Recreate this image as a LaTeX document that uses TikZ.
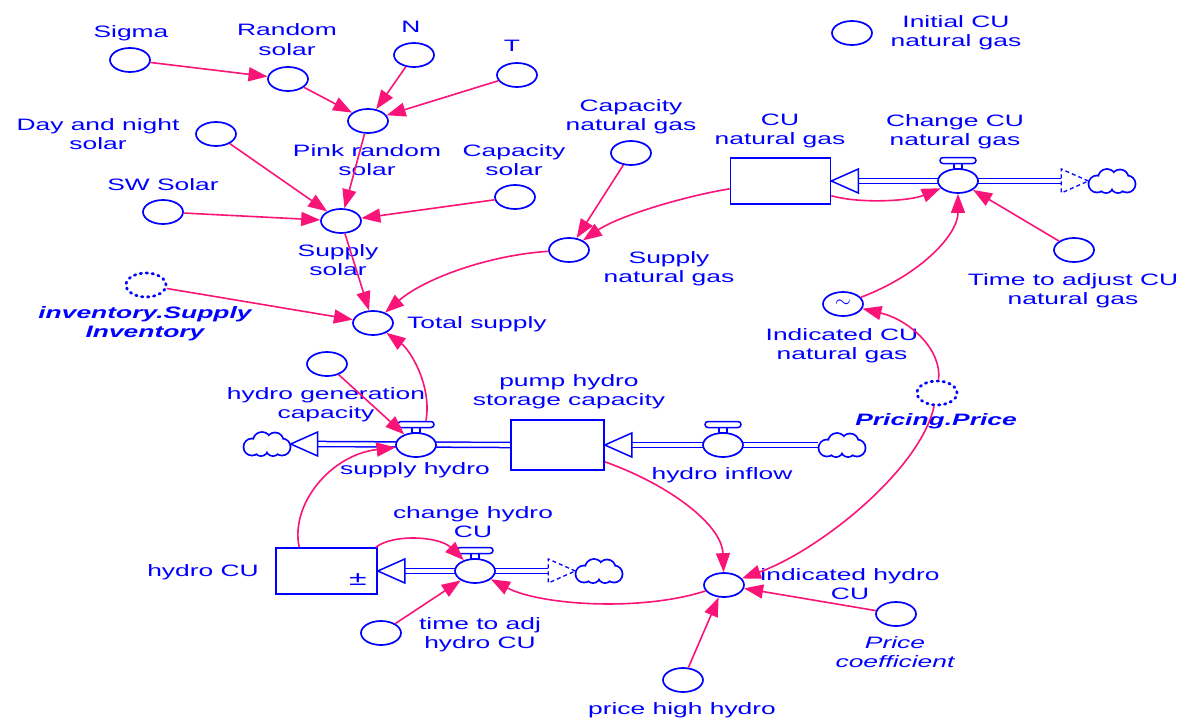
\documentclass[tikz,border=0pt]{standalone}
\usepackage{fontspec}
\setmainfont{Liberation Sans}[FakeStretch=1.6]
\usetikzlibrary{arrows.meta,shapes.geometric,backgrounds}
\definecolor{vblue}{RGB}{0,0,255}
\definecolor{vpink}{RGB}{250,20,120}

\tikzset{
  aux/.style={ellipse, draw=vblue, line width=1.7pt, fill=white,
    minimum width=40pt, minimum height=24pt, inner sep=0pt},
  ghostvar/.style={aux, line width=2.8pt, line cap=round, dash pattern=on 1.4pt off 4.6pt},
  stock/.style={rectangle, draw=vblue, line width=1.6pt, fill=white, inner sep=0pt},
  valve/.style={aux},
  handle/.style={rectangle, rounded corners=3pt, draw=vblue, line width=1.5pt, fill=white,
    minimum width=36pt, minimum height=6pt, inner sep=0pt},
  stem/.style={rectangle, draw=vblue, line width=1.4pt, fill=white,
    minimum width=8pt, minimum height=6pt, inner sep=0pt},
  sink/.style={rectangle, minimum width=47pt, minimum height=24pt, inner sep=0pt},
  % cloud outline: union of puffs, drawn as blue discs covered by smaller white discs
  cloudpic/.pic={
    \foreach \cx/\cy/\r in {-15/3/8.5, -5/-3/9, 8/-3/8.5, 15/3/8.5, -6/5/7, 6/5/7}
      {\fill[vblue] (\cx,\cy) circle[radius={(\r+0.9)*1pt}];}
    \foreach \cx/\cy/\r in {-15/3/8.5, -5/-3/9, 8/-3/8.5, 15/3/8.5, -6/5/7, 6/5/7}
      {\fill[white] (\cx,\cy) circle[radius={(\r-0.9)*1pt}];}
  },
  lbl/.style={text=vblue, align=center, anchor=base, inner sep=0pt,
    font=\fontsize{16.5}{19.5}\selectfont},
  link/.style={draw=vpink, line width=1.6pt, -{Triangle[length=19pt,width=14pt]}},
  pipe/.style={draw=vblue, line width=1.5pt, double=white, double distance=3.6pt},
  flowhead/.pic={\draw[vblue, line width=1.5pt, fill=white, line join=miter]
    (0,0) -- (-27,-12) -- (-27,12) -- cycle;},
  flowheaddash/.pic={\draw[vblue, line width=1.3pt, fill=white, dash pattern=on 4pt off 3pt]
    (0,0) -- (-27,-12) -- (-27,12) -- cycle;},
}

\begin{document}
\begin{tikzpicture}[x=1pt,y=-1pt]
\useasboundingbox (0,0) rectangle (1185,717);
\begin{scope}[on background layer]
  \fill[white] (0,0) rectangle (1185,717);
\end{scope}

% ---------- solar sector ----------
\node[aux] (sigma)  at (130,60)  {};
\node[aux] (randsol) at (288,79) {};
\node[aux] (nvar)   at (414,55)  {};
\node[aux] (tvar)   at (517,75)  {};
\node[aux] (pink)   at (368,121) {};
\node[aux] (dns)    at (216,134) {};
\node[aux] (sw)     at (163,212) {};
\node[aux] (capsol) at (515,197) {};
\node[aux] (supsol) at (341,221) {};
\node[aux] (total)  at (373,323) {};
\node[ghostvar] (inv) at (146,285) {};

% two-line labels are anchored at the baseline of their last line
\node[lbl] (l-sigma)   at (131,37.5) {Sigma};
\node[lbl] (l-randsol) at (287,55.5)  {Random\\solar};
\node[lbl] (l-n)       at (411,33)  {N};
\node[lbl] (l-t)       at (512,52)  {T};
\node[lbl] (l-dns)     at (98,149.5)  {Day and night\\solar};
\node[lbl] (l-pink)    at (367,175.5) {Pink random\\solar};
\node[lbl] (l-capsol)  at (514,175.5) {Capacity\\solar};
\node[lbl] (l-sw)      at (163,190) {SW Solar};
\node[lbl] (l-supsol)  at (338,275.5) {Supply\\solar};
\node[lbl, font=\fontsize{16.5}{19.5}\selectfont\bfseries\itshape] (l-inv) at (145,337.5) {inventory.Supply\\Inventory};
\node[lbl, anchor=base west] (l-total) at (407,328) {Total supply};

% ---------- natural gas sector ----------
\node[aux] (capng)  at (631,153) {};
\node[aux] (sng)    at (569,250) {};
\node[stock, minimum width=100pt, minimum height=46pt] (cung) at (780.5,181) {};
\node[aux] (timecu) at (1074,250) {};
\node[aux, text=vblue] (icng) at (843,304) {\raisebox{-4pt}{\fontsize{20}{20}\selectfont$\sim$}};
\node[ghostvar] (pricing) at (937,393) {};
\node[aux] (initcu) at (852,33) {};
\node[sink] (cloudng) at (1112,181) {};

\node[lbl] (l-capng)   at (631,130.5) {Capacity\\natural gas};
\node[lbl] (l-cung)    at (780,144.5) {CU\\natural gas};
\node[lbl] (l-chcu)    at (955,145.5) {Change CU\\natural gas};
\node[lbl] (l-init)    at (956,47)   {Initial CU\\natural gas};
\node[lbl] (l-sng)     at (669,282.5) {Supply\\natural gas};
\node[lbl] (l-timecu)  at (1073,304.5) {Time to adjust CU\\natural gas};
\node[lbl] (l-icng)    at (842,359.5) {Indicated CU\\natural gas};
\node[lbl, font=\fontsize{16.5}{19.5}\selectfont\bfseries\itshape] (l-pricing) at (936,425) {Pricing.Price};

% ---------- hydro sector ----------
\node[aux] (hgc)    at (327,364) {};
\node[stock, minimum width=93pt, minimum height=50pt] (pump) at (557.5,445) {};
\node[stock, minimum width=101pt, minimum height=46pt] (hcu) at (326.5,571) {};
\node[lbl, anchor=center, font=\fontsize{20}{20}\selectfont] (hcupm) at (358,580) {±};
\node[aux] (tahcu)  at (381,633) {};
\node[aux] (ihcu)   at (724,585) {};
\node[aux] (pcoef)  at (896,614) {};
\node[aux] (phh)    at (683,680) {};
\node[sink] (cloudl) at (267,444) {};
\node[sink] (cloudr) at (842,445) {};
\node[sink] (cloudh) at (599,571) {};

\node[lbl] (l-hgc)    at (326,418.5) {hydro generation\\capacity};
\node[lbl] (l-pump)   at (569,405.5) {pump hydro\\storage capacity};
\node[lbl] (l-suphyd) at (415,474) {supply hydro};
\node[lbl] (l-inflow) at (722,479) {hydro inflow};
\node[lbl] (l-hcu)    at (203,576) {hydro CU};
\node[lbl] (l-chhcu)  at (473,537.5) {change hydro\\CU};
\node[lbl] (l-tahcu)  at (480,648.5) {time to adj\\hydro CU};
\node[lbl] (l-ihcu)   at (850,599.5) {indicated hydro\\CU};
\node[lbl, font=\fontsize{16.5}{19.5}\selectfont\itshape] (l-pcoef) at (895,667.5) {Price\\coefficient};
\node[lbl] (l-phh)    at (682,714) {price high hydro};

% ---------- flow pipes ----------
\begin{scope}[on background layer]
  \draw[pipe] ([xshift=27pt]cung.east) -- ([xshift=-27pt]cloudng.west);
  \draw[pipe] (pump.west) -- ([xshift=27pt]cloudl.east);
  \draw[pipe] (cloudr.west) -- ([xshift=27pt]pump.east);
  \draw[pipe] ([xshift=27pt]hcu.east) -- ([xshift=-27pt]cloudh.west);
\end{scope}
\pic at (cloudng) {cloudpic};
\pic at (cloudl) {cloudpic};
\pic at (cloudr) {cloudpic};
\pic at (cloudh) {cloudpic};
\pic[rotate=180] at (cung.east) {flowhead};
\pic at (cloudng.west) {flowheaddash};
\pic[rotate=180] at (cloudl.east) {flowhead};
\pic[rotate=180] at (pump.east) {flowhead};
\pic[rotate=180] at (hcu.east) {flowhead};
\pic at (cloudh.west) {flowheaddash};

% ---------- valves ----------
\node[stem]   (chcus)   at (958,166)   {};
\node[handle] (chcuh)   at (958,160.5) {};
\node[valve]  (chcu)    at (958,181)   {};
\node[stem]   (suphyds) at (416,430)   {};
\node[handle] (suphydh) at (416,424.5) {};
\node[valve]  (suphyd)  at (416,445)   {};
\node[stem]   (inflows) at (723,430)   {};
\node[handle] (inflowh) at (723,424.5) {};
\node[valve]  (inflow)  at (723,445)   {};
\node[stem]   (chhcus)  at (475,556)   {};
\node[handle] (chhcuh)  at (475,550.5) {};
\node[valve]  (chhcu)   at (475,571)   {};

% ---------- links ----------
\draw[link] (sigma) -- (randsol);
\draw[link] (randsol) -- (pink);
\draw[link] (nvar) -- (pink);
\draw[link] (tvar) -- (pink);
\draw[link] (pink) -- (supsol);
\draw[link] (dns) -- (supsol);
\draw[link] (sw) -- (supsol);
\draw[link] (capsol) -- (supsol);
\draw[link] (supsol) -- (total);
\draw[link] (inv) -- (total);
\draw[link] (sng) .. controls (490,255) and (425,278) .. (total);
\draw[link] (capng) -- (sng);
\draw[link] (cung) .. controls (690,195) and (620,215) .. (sng);
\draw[link] (cung) .. controls (860,204) and (910,201) .. (chcu);
\draw[link] (timecu) -- (chcu);
\draw[link] (icng) .. controls (920,275) and (958,235) .. (chcu);
\draw[link] (pricing) .. controls (942,350) and (910,320) .. (icng);
\draw[link] (pricing) .. controls (920,470) and (820,550) .. (ihcu);
\draw[link] ([xshift=10pt]suphydh.north) .. controls (432,385) and (410,350) .. (total);
\draw[link] (hgc) -- (suphyd);
\draw[link] ([xshift=24pt]hcu.north west) .. controls (290,505) and (330,455) .. (suphyd);
\draw[link] ([xshift=-2pt]hcu.north east) .. controls (395,533) and (440,537) .. (chhcu);
\draw[link] (tahcu) -- (chhcu);
\draw[link] (ihcu) .. controls (640,612) and (540,605) .. (chhcu);
\draw[link] (pump) .. controls (670,485) and (722,525) .. (ihcu);
\draw[link] (phh) -- (ihcu);
\draw[link] (pcoef) -- (ihcu);
\end{tikzpicture}
\end{document}
